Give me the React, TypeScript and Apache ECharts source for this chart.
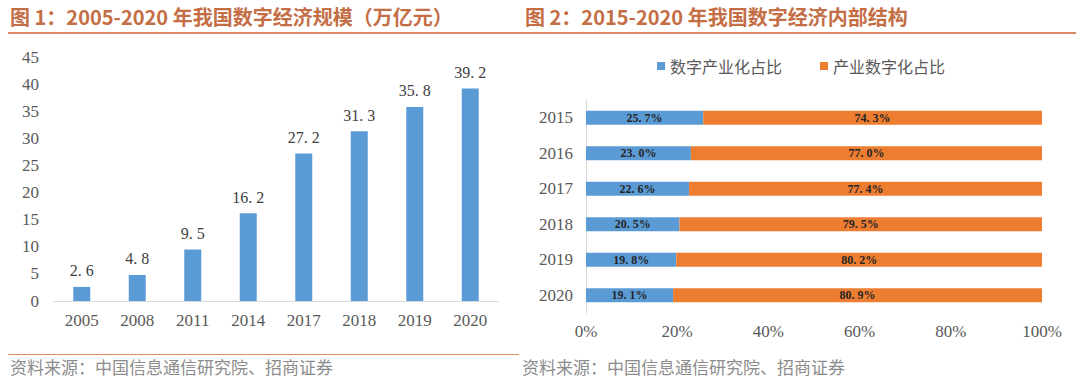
import React, { useEffect, useRef } from "react";
import * as echarts from "echarts";

const scaleYears = ["2005", "2008", "2011", "2014", "2017", "2018", "2019", "2020"];
const scaleValues = [2.6, 4.8, 9.5, 16.2, 27.2, 31.3, 35.8, 39.2];

const structYears = ["2015", "2016", "2017", "2018", "2019", "2020"];
const digitalIndustry = [25.7, 23.0, 22.6, 20.5, 19.8, 19.1];
const industryDigital = [74.3, 77.0, 77.4, 79.5, 80.2, 80.9];

const title1 = "图 1：2005-2020 年我国数字经济规模（万亿元）";
const title2 = "图 2：2015-2020 年我国数字经济内部结构";
const sourceText = "资料来源：中国信息通信研究院、招商证券";
const seriesNames = ["数字产业化占比", "产业数字化占比"];

const SERIF = "'Liberation Serif', 'DejaVu Serif', serif";
const CJK = "'Noto Sans CJK SC', sans-serif";
const TITLE_COLOR = "#C46E45";
const LINE_COLOR = "#D98A62";
const AXIS_TEXT = "#595959";

export default function App() {
  const ref = useRef<HTMLDivElement>(null);
  useEffect(() => {
    if (!ref.current) return;
    const chart = echarts.init(ref.current, undefined, { renderer: "svg" });
    const pctLabel = (p: any) => p.value.toFixed(1).replace(".", ". ") + "%";
    chart.setOption({
      animation: false,
      backgroundColor: "#ffffff",
      legend: {
        left: 652,
        top: 53,
        itemWidth: 8,
        itemHeight: 8,
        itemGap: 38,
        icon: "rect",
        textStyle: { fontFamily: CJK, fontSize: 16, color: AXIS_TEXT },
        data: seriesNames,
      },
      grid: [
        { left: 54, top: 57, width: 444, height: 244 },
        { left: 586, top: 100, width: 456, height: 213 },
      ],
      xAxis: [
        {
          gridIndex: 0,
          type: "category",
          data: scaleYears,
          axisTick: { show: false },
          axisLine: { lineStyle: { color: "#D9D9D9", width: 1 } },
          axisLabel: { fontFamily: SERIF, fontSize: 17, color: AXIS_TEXT, margin: 11 },
        },
        {
          gridIndex: 1,
          type: "value",
          min: 0,
          max: 100,
          interval: 20,
          splitLine: { show: false },
          axisLine: { show: false },
          axisTick: { show: false },
          axisLabel: { fontFamily: SERIF, fontSize: 17, color: AXIS_TEXT, margin: 10, formatter: "{value}%" },
        },
      ],
      yAxis: [
        {
          gridIndex: 0,
          type: "value",
          min: 0,
          max: 45,
          interval: 5,
          splitLine: { show: false },
          axisLine: { show: false },
          axisTick: { show: false },
          axisLabel: { fontFamily: SERIF, fontSize: 17, color: AXIS_TEXT, margin: 15 },
        },
        {
          gridIndex: 1,
          type: "category",
          data: structYears,
          inverse: true,
          axisTick: { show: false },
          axisLine: { lineStyle: { color: "#D9D9D9", width: 1 } },
          axisLabel: { fontFamily: SERIF, fontSize: 17, color: AXIS_TEXT, margin: 13 },
        },
      ],
      series: [
        {
          type: "bar",
          xAxisIndex: 0,
          yAxisIndex: 0,
          data: scaleValues,
          barWidth: 17,
          itemStyle: { color: "#5B9BD5" },
          label: {
            show: true,
            position: "top",
            distance: 8,
            fontFamily: SERIF,
            fontSize: 16,
            color: "#404040",
            formatter: (p: any) => p.value.toFixed(1).replace(".", ". "),
          },
        },
        {
          name: seriesNames[0],
          type: "bar",
          xAxisIndex: 1,
          yAxisIndex: 1,
          stack: "s",
          data: digitalIndustry,
          barWidth: 14,
          itemStyle: { color: "#5B9BD5" },
          label: {
            show: true,
            position: "inside",
            fontFamily: SERIF,
            fontSize: 12,
            fontWeight: "bold",
            color: "#262626",
            formatter: pctLabel,
          },
        },
        {
          name: seriesNames[1],
          type: "bar",
          xAxisIndex: 1,
          yAxisIndex: 1,
          stack: "s",
          data: industryDigital,
          barWidth: 14,
          itemStyle: { color: "#ED7D31" },
          label: {
            show: true,
            position: "inside",
            fontFamily: SERIF,
            fontSize: 12,
            fontWeight: "bold",
            color: "#262626",
            formatter: pctLabel,
          },
        },
      ],
      graphic: [
        {
          type: "text",
          left: 10,
          top: 6,
          style: { text: title1, fontFamily: CJK, fontSize: 20, fontWeight: "bold", fill: TITLE_COLOR },
        },
        {
          type: "text",
          left: 525,
          top: 6,
          style: { text: title2, fontFamily: CJK, fontSize: 20, fontWeight: "bold", fill: TITLE_COLOR },
        },
        {
          type: "line",
          shape: { x1: 8, y1: 33, x2: 1076, y2: 33 },
          style: { stroke: LINE_COLOR, lineWidth: 2 },
        },
        {
          type: "line",
          shape: { x1: 8, y1: 354.5, x2: 519, y2: 354.5 },
          style: { stroke: LINE_COLOR, lineWidth: 1 },
        },
        {
          type: "text",
          left: 10,
          top: 358,
          style: { text: sourceText, fontFamily: CJK, fontSize: 17, fill: "#8C8C8C" },
        },
        {
          type: "text",
          left: 522,
          top: 358,
          style: { text: sourceText, fontFamily: CJK, fontSize: 17, fill: "#8C8C8C" },
        },
      ],
    });
    return () => chart.dispose();
  }, []);
  return (
    <div
      ref={ref}
      style={{ position: "fixed", left: 0, top: 0, width: 1080, height: 386 }}
    />
  );
}
